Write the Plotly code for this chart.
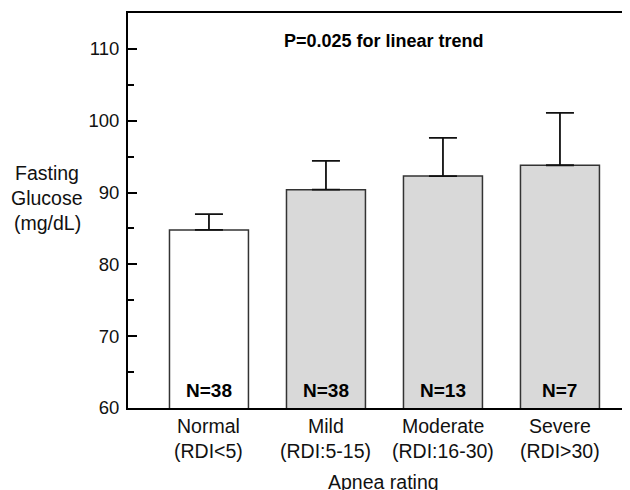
import plotly.graph_objects as go

cat_names = ["Normal", "Mild", "Moderate", "Severe"]
cat_ranges = ["(RDI<5)", "(RDI:5-15)", "(RDI:16-30)", "(RDI>30)"]
means = [84.8, 90.4, 92.3, 93.8]
err_up = [2.2, 4.0, 5.3, 7.3]
n_labels = ["N=38", "N=38", "N=13", "N=7"]
fills = ["#ffffff", "#d9d9d9", "#d9d9d9", "#d9d9d9"]
y_ticks = [60, 70, 80, 90, 100, 110]
y_minor = [65, 75, 85, 95, 105]
y_title_lines = ["Fasting", "Glucose", "(mg/dL)"]

FONT = "Liberation Sans, Arial, sans-serif"
TXT = "#111111"
xs = list(range(len(cat_names)))

fig = go.Figure()
fig.add_trace(go.Bar(
    x=xs, y=means, base=0,
    width=0.675,
    marker=dict(color=fills, line=dict(color="#333333", width=1.5)),
    error_y=dict(type="data", array=err_up, arrayminus=[0] * len(xs), symmetric=False,
                 color="#111111", thickness=1.8, width=14),
    showlegend=False,
))

annotations = []
for i, (nm, rg, nl) in enumerate(zip(cat_names, cat_ranges, n_labels)):
    annotations.append(dict(text=nm, x=i, xref="x", y=0, yref="paper", yanchor="middle",
                            yshift=-18, showarrow=False, font=dict(size=19.5, color=TXT)))
    annotations.append(dict(text=rg, x=i, xref="x", y=0, yref="paper", yanchor="middle",
                            yshift=-43, showarrow=False, font=dict(size=19.5, color=TXT)))
    annotations.append(dict(text="<b>" + nl + "</b>", x=i, xref="x", y=0, yref="paper",
                            yanchor="middle", yshift=18, showarrow=False,
                            font=dict(size=19, color="black")))
for j, line in enumerate(y_title_lines):
    annotations.append(dict(text=line, x=0, xref="paper", xanchor="center", xshift=-81,
                            y=0, yref="paper", yanchor="middle", yshift=235 - 25 * j,
                            showarrow=False, font=dict(size=19.5, color=TXT)))
annotations.append(dict(text="Apnea rating", x=0.5, xref="paper", xanchor="center",
                        y=0, yref="paper", yanchor="middle", yshift=-74, showarrow=False,
                        font=dict(size=19.5, color=TXT)))
annotations.append(dict(text="<b>P=0.025 for linear trend</b>", x=0, xref="paper",
                        xanchor="center", xshift=256, y=0, yref="paper", yanchor="middle",
                        yshift=367, showarrow=False, font=dict(size=18, color="black")))

fig.update_layout(
    width=630, height=490,
    margin=dict(l=120, r=0, t=5, b=90, autoexpand=False),
    plot_bgcolor="white", paper_bgcolor="white",
    font=dict(family=FONT, size=18, color=TXT),
    xaxis=dict(
        range=[-0.692, 3.667], tickmode="array", tickvals=xs, showticklabels=False,
        showline=True, linecolor="black", linewidth=2, mirror=True, ticks="",
        showgrid=False, zeroline=False,
    ),
    yaxis=dict(
        range=[60, 115], tickmode="array", tickvals=y_ticks,
        showline=True, linecolor="black", linewidth=2, ticks="inside", ticklen=9,
        tickwidth=1.5, tickcolor="black", ticklabelstandoff=3,
        minor=dict(tickvals=y_minor, ticks="inside", ticklen=6, tickwidth=1.5, tickcolor="black"),
        showgrid=False, zeroline=False, tickfont=dict(size=18.5, color=TXT),
    ),
    annotations=annotations,
)

fig.write_html("out.html")
